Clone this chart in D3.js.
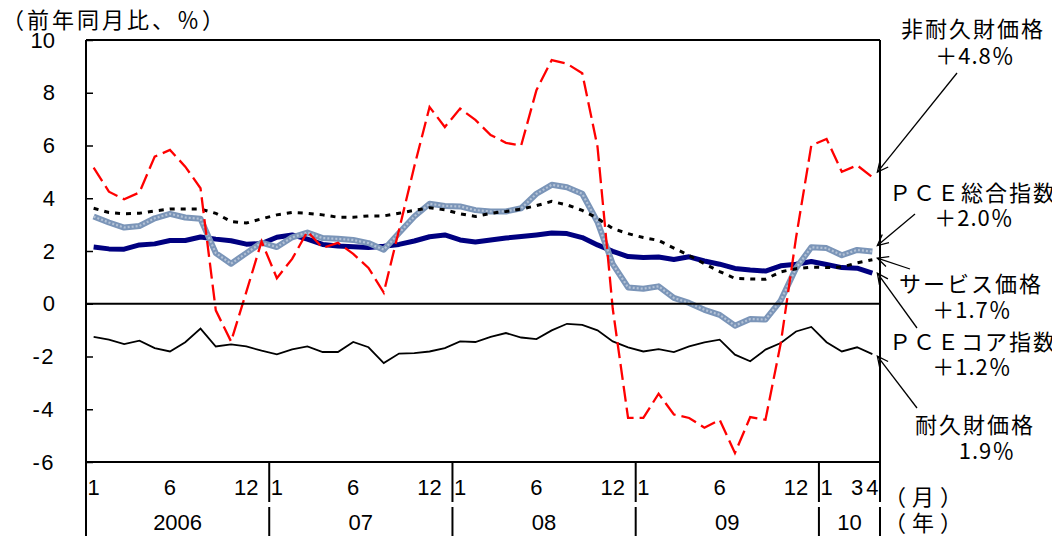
<!DOCTYPE html>
<html>
<head lang="ja">
    <meta charset="UTF-8">
    <title>PCE</title>
    <script src="https://d3js.org/d3.v7.min.js"></script>
    <style>
        body{margin:0;background:#fff;}
        svg text{font-family:"Liberation Sans",Arial,sans-serif;fill:#000;}
        svg text.jp{font-family:"Noto Sans CJK JP",sans-serif;}
    </style>
</head>
<body>
<svg id="chart" width="1052" height="536"></svg>
<script>

    // categories: Jan 2006 .. Apr 2010
    const MONTHS = [
        '06/1','06/2','06/3','06/4','06/5','06/6','06/7','06/8','06/9','06/10','06/11','06/12',
        '07/1','07/2','07/3','07/4','07/5','07/6','07/7','07/8','07/9','07/10','07/11','07/12',
        '08/1','08/2','08/3','08/4','08/5','08/6','08/7','08/8','08/9','08/10','08/11','08/12',
        '09/1','09/2','09/3','09/4','09/5','09/6','09/7','09/8','09/9','09/10','09/11','09/12',
        '10/1','10/2','10/3','10/4'];

    // 前年同月比、%
    const NONDURABLE = [
        5.16, 4.25, 3.96, 4.22, 5.58, 5.83, 5.2, 4.38, -0.25, -1.43, 0.45, 2.36,
        0.97, 1.7, 2.74, 2.12, 2.31, 1.89, 1.36, 0.42, 2.8, 5.2, 7.46, 6.7,
        7.4, 6.97, 6.4, 6.1, 6.0, 8.1, 9.24, 9.1, 8.74, 5.95, -0.2, -4.33,
        -4.33, -3.41, -4.2, -4.33, -4.7, -4.4, -5.66, -4.3, -4.4, -1.5, 2.5, 6.0,
        6.25, 5.0, 5.25, 4.8];
    const PCE_TOTAL = [
        3.31, 3.08, 2.89, 2.95, 3.24, 3.41, 3.27, 3.22, 1.92, 1.52, 1.92, 2.32,
        2.15, 2.52, 2.7, 2.49, 2.46, 2.42, 2.3, 2.05, 2.68, 3.31, 3.79, 3.71,
        3.69, 3.55, 3.5, 3.5, 3.62, 4.17, 4.51, 4.42, 4.17, 3.1, 1.5, 0.62,
        0.57, 0.66, 0.22, 0.03, -0.23, -0.42, -0.83, -0.58, -0.6, 0.12, 1.35, 2.14,
        2.11, 1.84, 2.04, 1.98];
    const SERVICES = [
        3.62, 3.46, 3.41, 3.43, 3.52, 3.59, 3.59, 3.59, 3.43, 3.12, 3.06, 3.22,
        3.37, 3.46, 3.43, 3.37, 3.28, 3.28, 3.33, 3.33, 3.43, 3.54, 3.64, 3.56,
        3.41, 3.31, 3.43, 3.5, 3.59, 3.72, 3.88, 3.75, 3.54, 3.24, 2.85, 2.66,
        2.51, 2.4, 2.11, 1.83, 1.52, 1.22, 0.96, 0.94, 0.93, 1.21, 1.33, 1.39,
        1.37, 1.39, 1.55, 1.67];
    const PCE_CORE = [
        2.15, 2.08, 2.07, 2.23, 2.27, 2.4, 2.4, 2.53, 2.45, 2.39, 2.26, 2.28,
        2.52, 2.61, 2.45, 2.25, 2.19, 2.16, 2.13, 2.18, 2.25, 2.38, 2.54, 2.61,
        2.42, 2.34, 2.42, 2.49, 2.55, 2.61, 2.68, 2.66, 2.51, 2.23, 1.99, 1.79,
        1.75, 1.77, 1.68, 1.78, 1.62, 1.5, 1.34, 1.28, 1.24, 1.44, 1.5, 1.6,
        1.49, 1.37, 1.35, 1.16];
    const DURABLE = [
        -1.26, -1.36, -1.53, -1.4, -1.68, -1.81, -1.46, -0.94, -1.62, -1.54, -1.62, -1.78,
        -1.92, -1.73, -1.62, -1.83, -1.83, -1.45, -1.65, -2.25, -1.89, -1.87, -1.81, -1.68,
        -1.43, -1.45, -1.26, -1.11, -1.28, -1.34, -1.01, -0.76, -0.8, -1.01, -1.43, -1.65,
        -1.81, -1.72, -1.83, -1.62, -1.46, -1.36, -1.93, -2.18, -1.74, -1.49, -1.05, -0.88,
        -1.46, -1.81, -1.65, -1.91];

    const Y_TICKS = [10, 8, 6, 4, 2, 0, -2, -4, -6];
    const MONTH_TICKS = ['06/1','06/6','06/12','07/1','07/6','07/12','08/1','08/6','08/12',
                         '09/1','09/6','09/12','10/1','10/3','10/4'];
    const YEAR_STARTS = ['06/1','07/1','08/1','09/1','10/1'];
    const YEAR_LABELS = ['2006','07','08','09','10'];

    const SERIES_LABELS = [
        ['非耐久財価格', '＋4.8％'],
        ['ＰＣＥ総合指数', '＋2.0％'],
        ['サービス価格', '＋1.7％'],
        ['ＰＣＥコア指数', '＋1.2％'],
        ['耐久財価格', '1.9％']
    ];

    let svg = d3.select('#chart');
    const pLeft = 86, pRight = 880, pTop = 40, pBottom = 462;

    let xband = d3.scaleBand().domain(MONTHS).range([pLeft, pRight]);
    let xc = d => xband(d) + xband.bandwidth() / 2;
    let y = d3.scaleLinear().domain([-6, 10]).range([pBottom, pTop]);

    // y axis (ticks inside the frame)
    let yaxis = svg.append('g')
        .attr('transform', `translate(${pLeft},0)`)
        .call(d3.axisLeft(y).tickValues(Y_TICKS).tickFormat(d => String(d))
            .tickSizeInner(-7).tickSizeOuter(0).tickPadding(31));
    yaxis.select('.domain').remove();
    yaxis.selectAll('line').attr('stroke', '#000').attr('stroke-width', 1.5);
    yaxis.selectAll('text').attr('font-size', 22).attr('font-family', '"Liberation Sans",Arial,sans-serif')
        .attr('fill', '#000').attr('letter-spacing', d => d < 0 ? 1.5 : 0);

    // series lines
    let line = d3.line()
        .x((d, i) => xc(MONTHS[i]))
        .y(d => y(d));

    let plot = svg.append('g');

    plot.append('path').datum(PCE_CORE)
        .attr('d', line).attr('fill', 'none')
        .attr('stroke', '#000080').attr('stroke-width', 5).attr('stroke-linejoin', 'round');

    plot.append('path').datum(PCE_TOTAL)
        .attr('d', line).attr('fill', 'none')
        .attr('stroke', '#7b95b8').attr('stroke-width', 6).attr('stroke-linejoin', 'round');
    plot.append('path').datum(PCE_TOTAL)
        .attr('d', line).attr('fill', 'none')
        .attr('stroke', '#b3c2d6').attr('stroke-width', 2.2).attr('stroke-dasharray', '2,2')
        .attr('stroke-linejoin', 'round');

    plot.append('path').datum(SERVICES)
        .attr('d', line).attr('fill', 'none')
        .attr('stroke', '#000').attr('stroke-width', 3).attr('stroke-dasharray', '5,6');

    plot.append('path').datum(DURABLE)
        .attr('d', line).attr('fill', 'none')
        .attr('stroke', '#000').attr('stroke-width', 1.8);

    plot.append('path').datum(NONDURABLE)
        .attr('d', line).attr('fill', 'none')
        .attr('stroke', '#ff0000').attr('stroke-width', 2.3).attr('stroke-dasharray', '16,6');

    // frame, zero line
    let frame = svg.append('g').attr('stroke', '#000').attr('stroke-width', 2);
    frame.append('line').attr('x1', pLeft).attr('x2', pRight).attr('y1', pTop).attr('y2', pTop);
    frame.append('line').attr('x1', pLeft).attr('x2', pRight).attr('y1', pBottom).attr('y2', pBottom);
    frame.append('line').attr('x1', pLeft).attr('x2', pRight).attr('y1', y(0)).attr('y2', y(0));
    frame.append('line').attr('x1', pLeft).attr('x2', pLeft).attr('y1', pTop).attr('y2', 536);
    frame.append('line').attr('x1', pRight).attr('x2', pRight).attr('y1', pTop).attr('y2', 502);
    frame.append('line').attr('x1', pRight).attr('x2', pRight).attr('y1', 507).attr('y2', 536);

    // year separators
    YEAR_STARTS.slice(1).forEach(m => {
        let xs = xband(m);
        frame.append('line').attr('x1', xs).attr('x2', xs).attr('y1', pBottom).attr('y2', 502);
        frame.append('line').attr('x1', xs).attr('x2', xs).attr('y1', 507).attr('y2', 536);
    });

    // month labels
    svg.append('g').selectAll('text').data(MONTH_TICKS).enter().append('text')
        .attr('x', d => d.endsWith('/12') ? xc(d) - 3 : xc(d))
        .attr('y', 487).attr('dy', '0.35em')
        .attr('text-anchor', d => d.endsWith('/12') ? 'end' : 'middle')
        .attr('font-size', 22)
        .text(d => d.split('/')[1]);

    // year labels
    svg.append('g').selectAll('text').data(YEAR_STARTS).enter().append('text')
        .attr('x', (d, i) => {
            let s = xband(d), e = i < YEAR_STARTS.length - 1 ? xband(YEAR_STARTS[i + 1]) : pRight;
            return (s + e) / 2;
        })
        .attr('y', 522).attr('dy', '0.35em')
        .attr('text-anchor', 'middle').attr('font-size', 22)
        .text((d, i) => YEAR_LABELS[i]);

    svg.append('text').attr('class', 'jp').attr('x', 884).attr('y', 497).attr('dy', '0.35em')
        .attr('font-size', 22).attr('letter-spacing', 6).text('（月）');
    svg.append('text').attr('class', 'jp').attr('x', 884).attr('y', 523).attr('dy', '0.35em')
        .attr('font-size', 22).attr('letter-spacing', 6).text('（年）');

    svg.append('text').attr('class', 'jp').attr('x', 2).attr('y', 20).attr('dy', '0.35em')
        .attr('font-size', 22).attr('letter-spacing', 3).text('（前年同月比、％）');

    // annotations with arrows to the latest value
    const LAST = [NONDURABLE, PCE_TOTAL, SERVICES, PCE_CORE, DURABLE].map(s => s[s.length - 1]);
    const NOTE_LAYOUT = [
        {t1: [973, 29, 'middle'], t2: [975, 56], from: [957, 73], dy: -5},
        {t1: [889, 193, 'start'], t2: [974, 218], from: [915, 214], dy: -6},
        {t1: [971, 284, 'middle'], t2: [972, 310], from: [910, 269], dy: -1.5},
        {t1: [889, 342, 'start'], t2: [972, 367], from: [917, 328], dy: 0},
        {t1: [975, 425, 'middle'], t2: [987, 451], from: [917, 408], dy: 2}
    ];
    let notes = svg.append('g');
    SERIES_LABELS.forEach((lab, i) => {
        let L = NOTE_LAYOUT[i];
        notes.append('text').attr('class', 'jp')
            .attr('x', L.t1[0]).attr('y', L.t1[1]).attr('dy', '0.35em')
            .attr('text-anchor', L.t1[2]).attr('font-size', 22).attr('letter-spacing', 2)
            .text(lab[0]);
        notes.append('text').attr('class', 'jp')
            .attr('x', L.t2[0]).attr('y', L.t2[1]).attr('dy', '0.35em')
            .attr('text-anchor', 'middle').attr('font-size', 22).attr('letter-spacing', 1)
            .text(lab[1]);

        let tx = xc(MONTHS[MONTHS.length - 1]) + 5, ty = y(LAST[i]) + L.dy;
        let fx = L.from[0], fy = L.from[1];
        let ang = Math.atan2(ty - fy, tx - fx);
        let head = 12, spread = 0.45;
        let g = notes.append('g').attr('stroke', '#000').attr('stroke-width', 1.3).attr('fill', 'none');
        g.append('line').attr('x1', fx).attr('y1', fy).attr('x2', tx).attr('y2', ty);
        g.append('path').attr('d', `M${tx - head * Math.cos(ang - spread)},${ty - head * Math.sin(ang - spread)}` +
            `L${tx},${ty}L${tx - head * Math.cos(ang + spread)},${ty - head * Math.sin(ang + spread)}`);
    });

</script>
</body>
</html>
